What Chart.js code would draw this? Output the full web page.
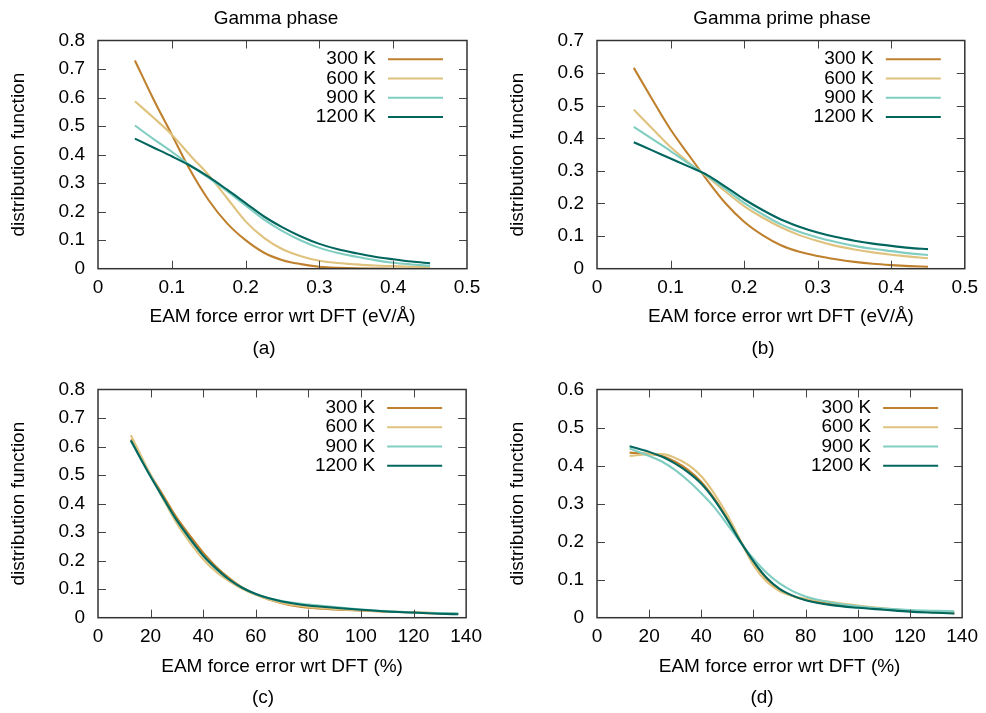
<!DOCTYPE html>
<html>
<head>
<meta charset="utf-8">
<script src="https://cdn.jsdelivr.net/npm/chart.js@4.4.1/dist/chart.umd.min.js"></script>
<style>
  body { margin: 0; background: #fff; }
  #fig { position: relative; width: 986px; height: 713px; overflow: hidden;
         font-family: "Liberation Sans", Arial, Helvetica, sans-serif; }
  canvas { position: absolute; }
  .lbl { position: absolute; font-size: 19px; line-height: 19px; white-space: nowrap;
         transform: translate(-50%, -50%); color: #000; }
</style>
</head>
<body>
<div id="fig">
  <canvas id="chartA" width="490" height="340" style="left:0;top:0"></canvas>
  <canvas id="chartB" width="496" height="340" style="left:490px;top:0"></canvas>
  <canvas id="chartC" width="490" height="330" style="left:0;top:360px"></canvas>
  <canvas id="chartD" width="496" height="330" style="left:490px;top:360px"></canvas>
  <div class="lbl" style="left:276px;top:16.5px">Gamma phase</div>
  <div class="lbl" style="left:782px;top:16.5px">Gamma prime phase</div>
  <div class="lbl" style="left:264px;top:346.5px">(a)</div>
  <div class="lbl" style="left:763px;top:346.5px">(b)</div>
  <div class="lbl" style="left:263px;top:696px">(c)</div>
  <div class="lbl" style="left:762px;top:696px">(d)</div>
</div>
<script>
// temperatures and their line colours
const temps = ["300 K", "600 K", "900 K", "1200 K"];
const colors = ["#bf812d", "#dfc27d", "#80cdc1", "#01665e"];

// x positions (absolute error in eV/A, relative error in %)
const errAbs = [0.05, 0.075, 0.1, 0.125, 0.15, 0.175, 0.2, 0.225, 0.25, 0.275, 0.3, 0.325, 0.35, 0.375, 0.4, 0.425, 0.45];
const errPct = [12.5, 20, 25, 30, 35, 40, 45, 50, 55, 60, 65, 70, 75, 80, 90, 100, 110, 120, 130, 137];

// tick labels
const absTicks = [0, 0.1, 0.2, 0.3, 0.4, 0.5];
const pctTicks = [0, 20, 40, 60, 80, 100, 120, 140];
const yTicks08 = [0, 0.1, 0.2, 0.3, 0.4, 0.5, 0.6, 0.7, 0.8];
const yTicks07 = [0, 0.1, 0.2, 0.3, 0.4, 0.5, 0.6, 0.7];
const yTicks06 = [0, 0.1, 0.2, 0.3, 0.4, 0.5, 0.6];

// (a) gamma phase, absolute error
const gammaAbs300  = [0.730, 0.595, 0.470, 0.345, 0.240, 0.159, 0.100, 0.056, 0.030, 0.016, 0.007, 0.003, 0.001, 0.0005, 0, 0, 0];
const gammaAbs600  = [0.587, 0.530, 0.470, 0.397, 0.328, 0.247, 0.166, 0.108, 0.068, 0.044, 0.028, 0.020, 0.015, 0.011, 0.009, 0.007, 0.006];
const gammaAbs900  = [0.502, 0.455, 0.410, 0.362, 0.318, 0.272, 0.222, 0.172, 0.132, 0.099, 0.073, 0.055, 0.042, 0.030, 0.021, 0.015, 0.010];
const gammaAbs1200 = [0.456, 0.425, 0.394, 0.361, 0.322, 0.277, 0.230, 0.183, 0.145, 0.113, 0.087, 0.068, 0.054, 0.042, 0.033, 0.025, 0.019];

// (b) gamma prime phase, absolute error
const primeAbs300  = [0.616, 0.520, 0.427, 0.348, 0.271, 0.200, 0.144, 0.103, 0.072, 0.052, 0.039, 0.029, 0.021, 0.015, 0.011, 0.008, 0.006];
const primeAbs600  = [0.488, 0.430, 0.373, 0.325, 0.282, 0.236, 0.192, 0.157, 0.127, 0.103, 0.085, 0.070, 0.059, 0.050, 0.043, 0.037, 0.032];
const primeAbs900  = [0.435, 0.398, 0.361, 0.322, 0.285, 0.244, 0.202, 0.167, 0.136, 0.113, 0.096, 0.082, 0.070, 0.061, 0.054, 0.047, 0.042];
const primeAbs1200 = [0.388, 0.363, 0.338, 0.313, 0.287, 0.251, 0.213, 0.180, 0.151, 0.129, 0.111, 0.097, 0.086, 0.077, 0.070, 0.064, 0.060];

// (c) gamma phase, relative error
const gammaPct300  = [0.625, 0.500, 0.425, 0.350, 0.287, 0.228, 0.178, 0.138, 0.105, 0.082, 0.064, 0.051, 0.041, 0.035, 0.029, 0.025, 0.021, 0.018, 0.015, 0.013];
const gammaPct600  = [0.640, 0.500, 0.412, 0.330, 0.263, 0.205, 0.160, 0.127, 0.100, 0.080, 0.064, 0.052, 0.044, 0.038, 0.031, 0.026, 0.022, 0.019, 0.016, 0.014];
const gammaPct900  = [0.620, 0.495, 0.416, 0.340, 0.275, 0.217, 0.170, 0.133, 0.104, 0.083, 0.068, 0.058, 0.051, 0.046, 0.037, 0.029, 0.023, 0.018, 0.016, 0.015];
const gammaPct1200 = [0.621, 0.495, 0.417, 0.341, 0.277, 0.218, 0.172, 0.133, 0.104, 0.083, 0.068, 0.057, 0.049, 0.043, 0.035, 0.028, 0.022, 0.018, 0.014, 0.012];

// (d) gamma prime phase, relative error
const primePct300  = [0.434, 0.431, 0.425, 0.410, 0.388, 0.357, 0.313, 0.260, 0.201, 0.146, 0.103, 0.074, 0.057, 0.047, 0.036, 0.028, 0.023, 0.018, 0.014, 0.012];
const primePct600  = [0.425, 0.430, 0.430, 0.420, 0.402, 0.372, 0.326, 0.270, 0.203, 0.138, 0.095, 0.070, 0.057, 0.050, 0.041, 0.032, 0.025, 0.019, 0.015, 0.012];
const primePct900  = [0.445, 0.425, 0.410, 0.388, 0.360, 0.327, 0.290, 0.245, 0.198, 0.155, 0.118, 0.090, 0.070, 0.056, 0.040, 0.030, 0.024, 0.020, 0.018, 0.017];
const primePct1200 = [0.451, 0.436, 0.423, 0.405, 0.382, 0.352, 0.310, 0.258, 0.200, 0.148, 0.105, 0.076, 0.058, 0.046, 0.033, 0.026, 0.021, 0.016, 0.013, 0.011];

const FONT = "'Liberation Sans', Arial, Helvetica, sans-serif";
Chart.defaults.font.family = FONT;
Chart.defaults.font.size = 19;
Chart.defaults.color = "#000";

// gnuplot-like frame: border, inward ticks on all sides, legend top right
const framePlugin = {
  id: "frame",
  afterDraw(chart, args, opts) {
    const { ctx, chartArea: a, scales: { x, y } } = chart;
    ctx.save();
    ctx.strokeStyle = "#444";
    ctx.lineWidth = 1;
    ctx.beginPath();
    x.ticks.forEach(t => {
      const px = Math.round(x.getPixelForValue(t.value)) + 0.5;
      if (px < a.left + 2 || px > a.right - 2) return;
      ctx.moveTo(px, a.bottom); ctx.lineTo(px, a.bottom - 8);
      ctx.moveTo(px, a.top); ctx.lineTo(px, a.top + 8);
    });
    y.ticks.forEach(t => {
      const py = Math.round(y.getPixelForValue(t.value)) + 0.5;
      if (py < a.top + 2 || py > a.bottom - 2) return;
      ctx.moveTo(a.left, py); ctx.lineTo(a.left + 8, py);
      ctx.moveTo(a.right, py); ctx.lineTo(a.right - 8, py);
    });
    ctx.stroke();
    ctx.strokeStyle = "#333";
    ctx.lineWidth = 1.5;
    ctx.strokeRect(a.left, a.top, a.right - a.left, a.bottom - a.top);

    ctx.font = "19px " + FONT;
    ctx.textAlign = "right";
    ctx.textBaseline = "middle";
    ctx.fillStyle = "#000";
    chart.data.datasets.forEach((ds, i) => {
      const ly = a.top + opts.top + i * 19.3;
      ctx.fillText(ds.label, a.right - 91, ly);
      ctx.strokeStyle = ds.borderColor;
      ctx.lineWidth = 2;
      ctx.beginPath();
      ctx.moveTo(a.right - 79, ly);
      ctx.lineTo(a.right - 24, ly);
      ctx.stroke();
    });
    ctx.restore();
  }
};

function makeChart(id, p) {
  const canvas = document.getElementById(id);
  const W = canvas.width, H = canvas.height;
  const datasets = p.series.map((vals, i) => ({
    label: temps[i],
    data: p.xs.map((xv, k) => ({ x: xv, y: vals[k] })),
    borderColor: colors[i],
    backgroundColor: colors[i],
    borderWidth: 2.1,
    pointRadius: 0,
    fill: false,
    cubicInterpolationMode: "monotone",
    order: p.series.length - i
  }));

  return new Chart(canvas, {
    type: "line",
    data: { datasets },
    plugins: [framePlugin],
    options: {
      responsive: false,
      animation: false,
      events: [],
      layout: { padding: { top: p.area.t, right: W - p.area.r, left: 0, bottom: 0 } },
      plugins: {
        legend: { display: false },
        tooltip: { enabled: false },
        frame: { top: p.legendTop }
      },
      scales: {
        x: {
          type: "linear",
          min: p.xTicks[0],
          max: p.xTicks[p.xTicks.length - 1],
          afterBuildTicks: s => { s.ticks = p.xTicks.map(v => ({ value: v })); },
          afterFit: s => { s.height = H - p.area.b; },
          grid: { display: false, drawTicks: false },
          border: { display: false },
          ticks: { padding: 8, color: "#000", maxRotation: 0, autoSkip: false, callback: v => String(v) },
          title: { display: true, text: p.xTitle, color: "#000", padding: { top: 0, bottom: H - p.xTitleY - 11.4 } }
        },
        y: {
          type: "linear",
          min: 0,
          max: p.yTicks[p.yTicks.length - 1],
          afterBuildTicks: s => { s.ticks = p.yTicks.map(v => ({ value: v })); },
          afterFit: s => { s.width = p.area.l; },
          grid: { display: false, drawTicks: false },
          border: { display: false },
          ticks: { padding: 13, color: "#000", autoSkip: false, callback: v => String(v) },
          title: { display: true, text: "distribution function", color: "#000", padding: { top: p.area.l - 79 - 11.4, bottom: 0 } }
        }
      }
    }
  });
}

const absTitle = "EAM force error wrt DFT (eV/Å)";
const pctTitle = "EAM force error wrt DFT (%)";

makeChart("chartA", {
  xs: errAbs, series: [gammaAbs300, gammaAbs600, gammaAbs900, gammaAbs1200],
  xTicks: absTicks, yTicks: yTicks08, xTitle: absTitle,
  area: { l: 98, r: 467, t: 40.5, b: 268.7 }, xTitleY: 317, legendTop: 18.7
});
makeChart("chartB", {
  xs: errAbs, series: [primeAbs300, primeAbs600, primeAbs900, primeAbs1200],
  xTicks: absTicks, yTicks: yTicks07, xTitle: absTitle,
  area: { l: 107, r: 475.5, t: 40.5, b: 268.7 }, xTitleY: 317, legendTop: 18.7
});
makeChart("chartC", {
  xs: errPct, series: [gammaPct300, gammaPct600, gammaPct900, gammaPct1200],
  xTicks: pctTicks, yTicks: yTicks08, xTitle: pctTitle,
  area: { l: 98, r: 467, t: 29.5, b: 257.7 }, xTitleY: 306.5, legendTop: 18.4
});
makeChart("chartD", {
  xs: errPct, series: [primePct300, primePct600, primePct900, primePct1200],
  xTicks: pctTicks, yTicks: yTicks06, xTitle: pctTitle,
  area: { l: 107, r: 475.5, t: 29.5, b: 257.7 }, xTitleY: 306.5, legendTop: 18.4
});
</script>
</body>
</html>
